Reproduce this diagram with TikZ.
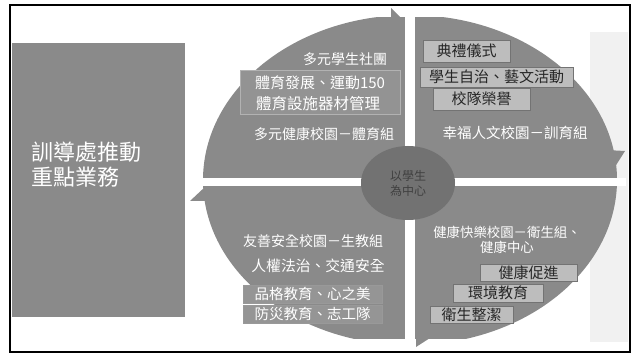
\documentclass[tikz,border=0pt]{standalone}
\usepackage{fontspec}
\setmainfont{Noto Sans CJK TC}
\definecolor{quad}{HTML}{8A8A8A}
\definecolor{leftgray}{HTML}{8A8A8A}
\definecolor{boxgray}{HTML}{BDBDBD}
\definecolor{boxdark}{HTML}{959595}
\definecolor{centergray}{HTML}{727272}
\definecolor{speck}{HTML}{F1F1F1}
\tikzset{
  wtxt/.style={text=white, inner sep=0pt, font=\fontsize{14.5}{16}\selectfont},
  tagbox/.style={fill=boxgray, draw=black!55, line width=0.4pt, text=black!85,
    inner sep=0pt, font=\fontsize{15}{17}\selectfont},
  darkbox/.style={fill=boxdark, draw=black!40, line width=0.4pt, text=white,
    inner sep=0pt, font=\fontsize{14.5}{17}\selectfont},
  barb/.style={fill=quad},
}
\begin{document}
\begin{tikzpicture}[x=1pt,y=-1pt]
\useasboundingbox (0,0) rectangle (634,355);
% frame
\draw[line width=1.4pt] (10,5) rectangle (630,352);
% speckled paper strip on the right
\fill[speck] (590,32) rectangle (628,342);
% left box
\node[fill=leftgray, minimum width=173pt, minimum height=274pt, inner sep=0pt] (leftbox) at (98.5,180) {};
\node[text=white, font=\fontsize{22}{25}\selectfont, align=left, anchor=west, inner sep=0pt] (lefttitle) at (31,165) {訓導處推動\\重點業務};
% big ring shape
\begin{scope}
  \clip (0,18) rectangle (634,338);
  \fill[quad] (410,180) ellipse [x radius=207, y radius=165];
\end{scope}
% arrow barbs
\fill[barb] (190,201) -- (206,186) -- (206,201) -- cycle;
\fill[barb] (606,150) -- (625,151) -- (613,170) -- cycle;
\fill[barb] (391,8) -- (405,22) -- (391,24) -- cycle;
\fill[barb] (430,338) -- (416,347) -- (416,336) -- cycle;
% white gaps
\fill[white] (405,8) rectangle (415,348);
\fill[white] (196,178) rectangle (626,186);
% centre ellipse
\fill[centergray] (408,183) ellipse [x radius=47, y radius=37];
\node[text=black!75, font=\fontsize{12}{15}\selectfont, align=center, inner sep=0pt] (centre) at (408,183) {以學生\\為中心};
% top-left quadrant
\node[fill=quad!92!white, draw=black!30, line width=0.3pt, minimum width=160pt, minimum height=44pt, inner sep=0pt] (tlbox) at (320,92) {};
\node[wtxt, font=\fontsize{14}{16}\selectfont] (tl1) at (345,59) {多元學生社團};
\node[wtxt, font=\fontsize{15}{16}\selectfont] (tl2) at (320,83) {體育發展、運動150};
\node[wtxt, font=\fontsize{15.5}{16}\selectfont] (tl3) at (318,104) {體育設施器材管理};
\node[wtxt, font=\fontsize{14}{16}\selectfont] (tl4) at (324,134) {多元健康校園－體育組};
% top-right quadrant
\node[tagbox, minimum width=87pt, minimum height=22pt] (tr1) at (466.5,51) {典禮儀式};
\node[tagbox, minimum width=153pt, minimum height=20pt] (tr2) at (496.5,77) {學生自治、藝文活動};
\node[tagbox, minimum width=97pt, minimum height=22pt] (tr3) at (481.5,99) {校隊榮譽};
\node[wtxt] (tr4) at (515,133) {幸福人文校園－訓育組};
% bottom-left quadrant
\node[wtxt, font=\fontsize{14}{16}\selectfont] (bl1) at (313,241) {友善安全校園－生教組};
\node[wtxt, font=\fontsize{14.8}{16}\selectfont] (bl2) at (318,266) {人權法治、交通安全};
\node[darkbox, minimum width=139pt, minimum height=18pt] (bl3) at (312.5,294) {品格教育、心之美};
\node[darkbox, minimum width=139pt, minimum height=18pt] (bl4) at (312.5,314) {防災教育、志工隊};
% bottom-right quadrant
\node[wtxt, font=\fontsize{13.4}{15}\selectfont, align=center] (br0) at (507,240) {健康快樂校園－衛生組、\\健康中心};
\node[tagbox, minimum width=97pt, minimum height=17pt] (br1) at (528.5,273) {健康促進};
\node[tagbox, minimum width=90pt, minimum height=18pt] (br2) at (498,293) {環境教育};
\node[tagbox, minimum width=83pt, minimum height=17pt] (br3) at (471.5,314.5) {衛生整潔};
\end{tikzpicture}
\end{document}
